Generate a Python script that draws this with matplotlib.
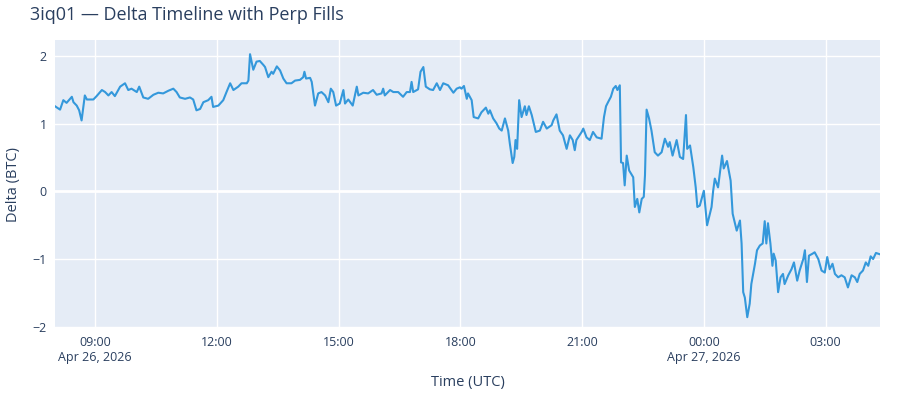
import numpy as np
import pandas as pd
import matplotlib
matplotlib.use("Agg")
import matplotlib.pyplot as plt

plt.rcParams['font.family'] = ['Open Sans', 'DejaVu Sans']

# hours since 2026-04-26 00:00 UTC
hours = [8.015, 8.14, 8.22, 8.30, 8.43, 8.47, 8.55, 8.61, 8.67, 8.75, 8.80, 8.96,
         9.04, 9.17, 9.25, 9.33, 9.41, 9.49, 9.62, 9.74, 9.82, 9.90, 10.03, 10.09,
         10.19, 10.31, 10.44, 10.56, 10.68, 10.81, 10.93, 11.01, 11.09, 11.22, 11.34,
         11.42, 11.50, 11.59, 11.67, 11.79, 11.87, 11.91, 12.04, 12.16, 12.24, 12.33,
         12.41, 12.53, 12.61, 12.74, 12.78, 12.82, 12.90, 12.98, 13.06, 13.15, 13.19,
         13.27, 13.35, 13.39, 13.48, 13.56, 13.64, 13.72, 13.84, 13.93, 14.05, 14.13,
         14.16, 14.20, 14.30, 14.34, 14.38, 14.42, 14.50, 14.58, 14.67, 14.75, 14.81,
         14.87, 14.94, 15.03, 15.12, 15.16, 15.24, 15.35, 15.45, 15.49, 15.61, 15.73,
         15.85, 15.94, 16.06, 16.10, 16.14, 16.27, 16.35, 16.47, 16.59, 16.68, 16.76,
         16.80, 16.84, 16.96, 17.02, 17.09, 17.15, 17.25, 17.33, 17.42, 17.50, 17.58,
         17.70, 17.83, 17.91, 17.99, 18.03, 18.09, 18.16, 18.19, 18.28, 18.33, 18.44,
         18.52, 18.63, 18.69, 18.73, 18.81, 18.89, 18.96, 19.02, 19.10, 19.18, 19.22,
         19.29, 19.33, 19.36, 19.40, 19.45, 19.51, 19.59, 19.63, 19.69, 19.76, 19.86,
         19.96, 20.04, 20.13, 20.25, 20.29, 20.37, 20.45, 20.53, 20.62, 20.70, 20.77,
         20.82, 20.86, 20.99, 21.03, 21.11, 21.19, 21.27, 21.36, 21.48, 21.54, 21.59,
         21.64, 21.71, 21.77, 21.83, 21.87, 21.93, 21.96, 22.01, 22.05, 22.10, 22.16,
         22.26, 22.30, 22.36, 22.41, 22.47, 22.52, 22.55, 22.59, 22.65, 22.71, 22.79,
         22.87, 22.96, 23.04, 23.12, 23.16, 23.23, 23.33, 23.41, 23.49, 23.56, 23.59,
         23.66, 23.74, 23.80, 23.84, 23.90, 24.00, 24.08, 24.19, 24.23, 24.27, 24.35,
         24.45, 24.49, 24.57, 24.66, 24.71, 24.81, 24.89, 24.93, 24.97, 25.01, 25.07,
         25.13, 25.17, 25.21, 25.26, 25.31, 25.38, 25.45, 25.50, 25.54, 25.58, 25.64,
         25.69, 25.72, 25.77, 25.83, 25.89, 25.95, 25.99, 26.08, 26.16, 26.22, 26.30,
         26.36, 26.45, 26.49, 26.54, 26.59, 26.68, 26.73, 26.82, 26.90, 26.98, 27.04,
         27.10, 27.17, 27.23, 27.31, 27.39, 27.47, 27.55, 27.64, 27.72, 27.78, 27.84,
         27.92, 27.99, 28.05, 28.11, 28.17, 28.24, 28.34]

delta = [1.26, 1.21, 1.35, 1.31, 1.40, 1.32, 1.27, 1.20, 1.05, 1.42, 1.36, 1.36,
         1.41, 1.50, 1.47, 1.42, 1.47, 1.41, 1.55, 1.60, 1.50, 1.52, 1.47, 1.55,
         1.39, 1.37, 1.43, 1.46, 1.45, 1.49, 1.52, 1.47, 1.39, 1.37, 1.39,
         1.36, 1.20, 1.22, 1.32, 1.35, 1.40, 1.25, 1.27, 1.35, 1.47, 1.60,
         1.50, 1.55, 1.60, 1.60, 1.64, 2.03, 1.80, 1.92, 1.93, 1.87, 1.84,
         1.69, 1.77, 1.74, 1.85, 1.79, 1.67, 1.60, 1.60, 1.64, 1.65, 1.69,
         1.77, 1.67, 1.68, 1.62, 1.45, 1.27, 1.45, 1.47, 1.42, 1.32, 1.52,
         1.47, 1.27, 1.30, 1.50, 1.30, 1.36, 1.27, 1.55, 1.42, 1.46, 1.45,
         1.50, 1.43, 1.45, 1.52, 1.42, 1.50, 1.47, 1.47, 1.40, 1.47, 1.47,
         1.62, 1.47, 1.51, 1.77, 1.84, 1.55, 1.51, 1.50, 1.60, 1.50, 1.60,
         1.57, 1.46, 1.52, 1.54, 1.52, 1.56, 1.37, 1.45, 1.35, 1.10, 1.08,
         1.17, 1.24, 1.15, 1.20, 1.08, 1.01, 0.93, 0.90, 1.08, 0.90, 0.71,
         0.42, 0.51, 0.76, 0.63, 1.35, 1.10, 1.26, 1.13, 1.26, 1.13, 0.88,
         0.90, 1.03, 0.93, 0.98, 1.05, 1.14, 0.90, 0.83, 0.63, 0.83, 0.76,
         0.61, 0.76, 0.88, 0.93, 0.80, 0.76, 0.88, 0.80, 0.78, 1.10, 1.26,
         1.32, 1.40, 1.52, 1.56, 1.50, 1.57, 0.43, 0.42, 0.09, 0.53, 0.31,
         0.21, -0.23, -0.11, -0.31, -0.11, -0.08, 0.24, 1.21, 1.08, 0.90, 0.58,
         0.53, 0.58, 0.78, 0.66, 0.73, 0.53, 0.76, 0.51, 0.48, 1.13, 0.63,
         0.68, 0.36, 0.06, -0.23, -0.21, 0.01, -0.50, -0.23, 0.01, 0.19, 0.06,
         0.53, 0.34, 0.45, 0.16, -0.33, -0.58, -0.43, -0.77, -1.49, -1.57, -1.86,
         -1.66, -1.37, -1.24, -1.07, -0.87, -0.80, -0.77, -0.44, -0.77, -0.47, -0.77,
         -1.10, -0.92, -1.02, -1.49, -1.27, -1.22, -1.37, -1.24, -1.15, -1.05, -1.32,
         -1.17, -1.00, -0.87, -1.34, -0.95, -0.92, -0.90, -1.00, -1.17, -1.20, -0.97,
         -1.15, -1.07, -1.22, -1.27, -1.24, -1.27, -1.42, -1.24, -1.27, -1.34, -1.22,
         -1.17, -1.05, -1.10, -0.96, -1.00, -0.91, -0.93]

tick_times = ["2026-04-26 09:00", "2026-04-26 12:00", "2026-04-26 15:00",
              "2026-04-26 18:00", "2026-04-26 21:00", "2026-04-27 00:00",
              "2026-04-27 03:00"]
tick_labels = ["09:00\nApr 26, 2026", "12:00", "15:00", "18:00", "21:00",
               "00:00\nApr 27, 2026", "03:00"]
y_ticks = [-2, -1, 0, 1, 2]

text_col = "#2a3f5f"
times = pd.Timestamp("2026-04-26") + pd.to_timedelta(np.array(hours), unit="h")

fig = plt.figure(figsize=(9, 4), dpi=100)
ax = fig.add_axes([55 / 900, 1 - 328 / 400, 825 / 900, 288 / 400])
ax.set_facecolor("#E5ECF6")
for s in ax.spines.values():
    s.set_visible(False)

ax.plot(times, delta, color="#3498db", lw=1.5, zorder=3)

ax.set_xlim(times[0], times[-1])
ax.set_ylim(-2.02, 2.24)

ax.set_xticks(pd.to_datetime(tick_times))
ax.set_xticklabels(tick_labels, ha="center", multialignment="center")
ax.set_yticks(y_ticks)
ax.set_yticklabels([str(v).replace("-", "\u2212") for v in y_ticks])

ax.grid(True, color="white", lw=1, zorder=0)
ax.axhline(0, color="white", lw=2, zorder=1)
ax.tick_params(length=0, labelsize=9, colors=text_col, pad=6)

ax.set_xlabel("Time (UTC)", fontsize=10.5, color=text_col, labelpad=8)
ax.set_ylabel("Delta (BTC)", fontsize=10.5, color=text_col, labelpad=8)
fig.text(30 / 900, 1 - 15 / 400, "3iq01 \u2014 Delta Timeline with Perp Fills",
         fontsize=13, color=text_col, va="center", ha="left")

fig.savefig("out.png", dpi=100, facecolor="white")
